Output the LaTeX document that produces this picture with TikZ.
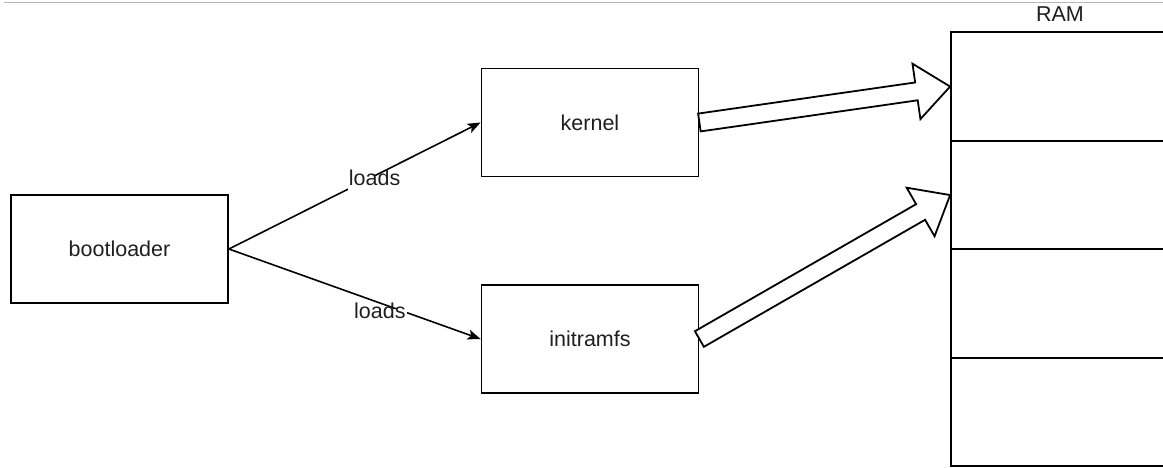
\documentclass[tikz,border=0pt]{standalone}
\usepackage{fontspec}
\setmainfont{Liberation Sans}
\usetikzlibrary{calc,arrows.meta}

% Hollow block arrow from #1 to #2 (tip exactly at #2)
\newcommand\fatarrow[2]{%
  \path ($(#2)!34pt!(#1)$) coordinate (fa-neck);
  \draw[fatline]
    ($(#1)!9pt!90:(#2)$)
    -- ($(fa-neck)!9pt!-90:(#1)$)
    -- ($(fa-neck)!28pt!-90:(#1)$)
    -- (#2)
    -- ($(fa-neck)!28pt!90:(#1)$)
    -- ($(fa-neck)!9pt!90:(#1)$)
    -- ($(#1)!9pt!-90:(#2)$)
    -- cycle;
}

\begin{document}
\begin{tikzpicture}[x=1pt,y=-1pt,
  labelfont/.style={font=\fontsize{21.5}{26}\selectfont, text=black!88},
  box/.style={draw=black, line width=1.8pt, fill=white,
    minimum width=217pt, minimum height=108pt, inner sep=0pt, labelfont},
  ramcell/.style={draw=black, line width=1.8pt, fill=white,
    minimum width=218pt, minimum height=108.5pt, inner sep=0pt},
  loadline/.style={draw=black, line width=1.6pt,
    -{Stealth[length=13pt, width=10pt, inset=3pt]}},
  loadlabel/.style={labelfont, fill=white, text height=0.75em, text depth=0.25em,
    inner xsep=1pt, inner ysep=2pt},
  fatline/.style={draw=black, line width=1.8pt, fill=white, line join=miter},
]
\useasboundingbox (0,0) rectangle (1163,467);
\clip (0,0) rectangle (1163,467);

% thin rule along the top edge
\draw[black!28, line width=1pt] (4,2.5) -- (1163,2.5);

% boxes
\node[box] (boot) at (119.5,249) {bootloader};
\node[box] (kern) at (590,122.5) {kernel};
\node[box] (initrd) at (590,339) {initramfs};

% memory column
\node[ramcell] (ram1) at (1060,86.55) {};
\node[ramcell] (ram2) at (1060,195.05) {};
\node[ramcell] (ram3) at (1060,303.55) {};
\node[ramcell] (ram4) at (1060,412.05) {};
\node[labelfont, anchor=south] (ramlabel) at (1060,25) {RAM};

% bootloader loads kernel and initramfs
\draw[loadline] (boot.east) -- node[loadlabel, pos=0.579, yshift=-7pt] {loads} (kern.west);
\draw[loadline] (boot.east) -- node[loadlabel, pos=0.6, yshift=-13pt] {loads} (initrd.west);

% both images are placed into memory
\fatarrow{kern.east}{ram1.west}
\fatarrow{initrd.east}{ram2.west}
\end{tikzpicture}
\end{document}
